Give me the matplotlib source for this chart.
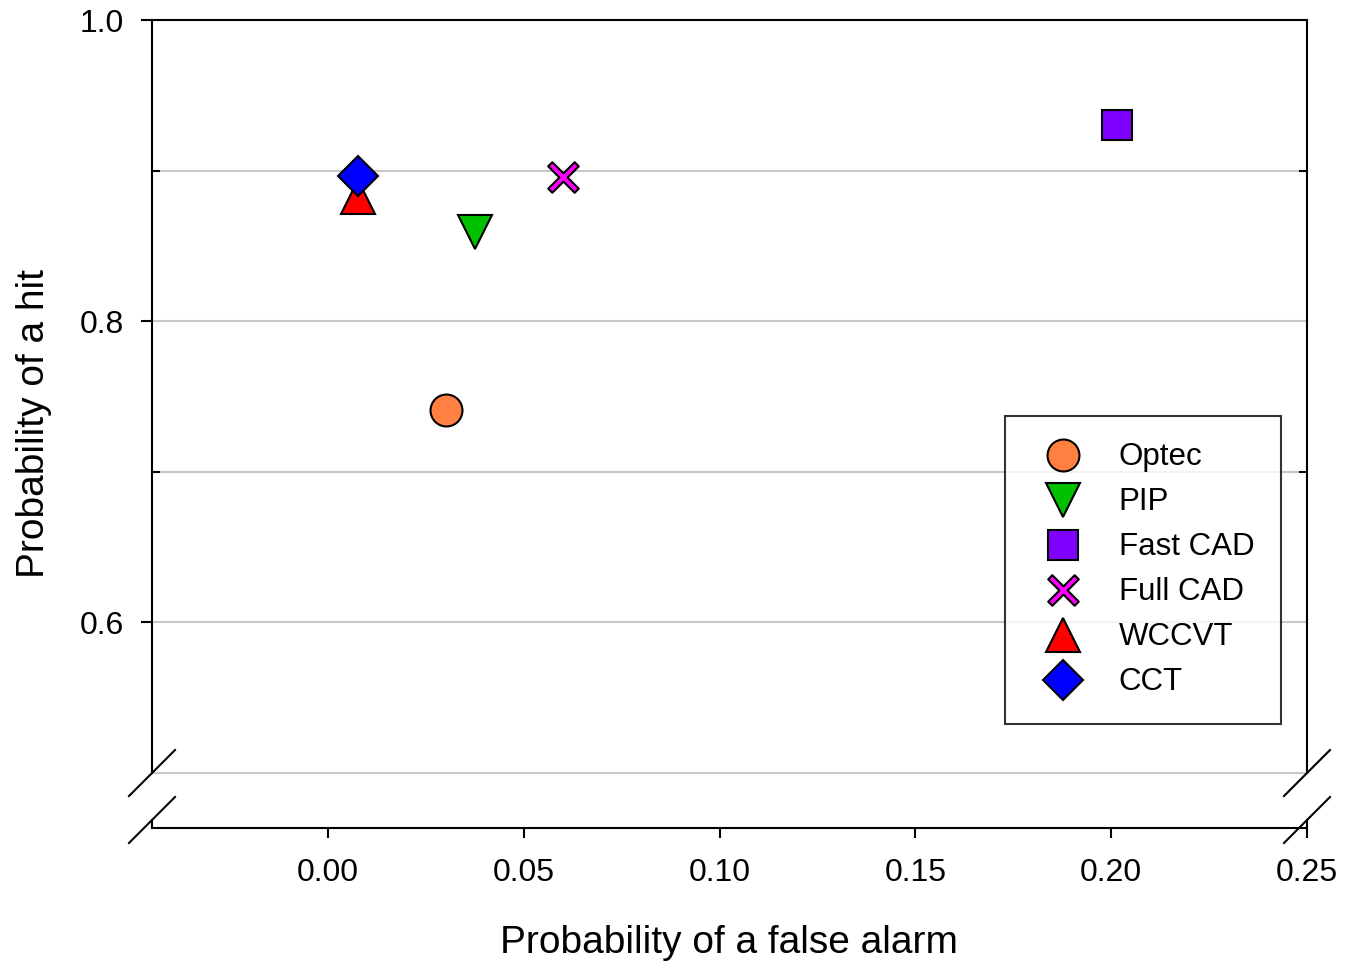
import numpy as np
import matplotlib.pyplot as plt
from matplotlib.path import Path

plt.rcParams['font.family'] = ['Liberation Sans', 'DejaVu Sans']

# data
methods = ['Optec', 'PIP', 'Fast CAD', 'Full CAD', 'WCCVT', 'CCT']
false_alarm = [0.030, 0.0375, 0.2015, 0.060, 0.0076, 0.0076]
hit = [0.741, 0.859, 0.930, 0.896, 0.8826, 0.8965]
colors = ['#FF8040', '#00C000', '#8000FF', '#FF00FF', '#FF0000', '#0000FF']

x_ticks = [0.00, 0.05, 0.10, 0.15, 0.20, 0.25]
y_ticks = [0.6, 0.8, 1.0]
y_minor = [0.7, 0.9]
grid_y = [0.5, 0.6, 0.7, 0.8, 0.9]

# thin "x" marker with an outline
w = 0.22
a = w / np.sqrt(2)
c = w * np.sqrt(2)
thin_x = Path([(0, c), (1 - a, 1 + a), (1 + a, 1 - a), (c, 0), (1 + a, -1 + a),
               (1 - a, -1 - a), (0, -c), (-1 + a, -1 - a), (-1 - a, -1 + a),
               (-c, 0), (-1 - a, 1 - a), (-1 + a, 1 + a), (0, c)], closed=True)

markers = ['o', 'v', 's', thin_x, '^', 'D']
sizes = [23, 24, 21, 22, 24, 20]

fig = plt.figure(figsize=(13.47, 9.63), dpi=100)
ax = fig.add_axes([152 / 1347, 1 - 828 / 963, 1155 / 1347, 808 / 963])

ymin = 0.4635
ax.set_xlim(-0.045, 0.25)
ax.set_ylim(ymin, 1.0)

for g in grid_y:
    ax.axhline(g, color='#C8C8C8', linewidth=1.5, zorder=0)

for m, x, y, mk, col, s in zip(methods, false_alarm, hit, markers, colors, sizes):
    ax.plot(x, y, linestyle='none', marker=mk, markersize=s, markerfacecolor=col,
            markeredgecolor='black', markeredgewidth=1.5, label=m, zorder=3)

# spines with a break between 0.5 and the x axis
for side in ['left', 'right']:
    ax.spines[side].set_bounds(0.5, 1.0)
    ax.spines[side].set_linewidth(1.5)
ax.spines['top'].set_linewidth(1.5)
ax.spines['bottom'].set_linewidth(1.5)

ax.set_xticks(x_ticks)
ax.set_xticklabels([f'{v:.2f}' for v in x_ticks])
ax.set_yticks(y_ticks)
ax.set_yticklabels([f'{v:.1f}' for v in y_ticks])
ax.set_yticks(y_minor, minor=True)
ax.tick_params(axis='x', labelsize=23, width=1.5, length=7.5, direction='out', pad=14)
ax.tick_params(axis='y', which='major', labelsize=23, width=1.5, length=8,
               direction='out', left=True, right=False, pad=12)
ax.tick_params(axis='y', which='minor', width=1.5, length=5.5,
               direction='in', left=True, right=True)

# break marks
dx = 23 / 1155
dy = 23 / 808
y_top = (0.5 - ymin) / (1.0 - ymin)
y_low = 8 / 808
for xa in [0.0, 1.0]:
    for ya in [y_top, y_low]:
        ax.plot([xa - dx, xa + dx], [ya - dy, ya + dy], color='black',
                linewidth=1.5, transform=ax.transAxes, clip_on=False, zorder=5)
    ax.plot([xa, xa], [0, y_low], color='black', linewidth=1.5,
            transform=ax.transAxes, clip_on=False, zorder=5)

ax.set_xlabel('Probability of a false alarm', fontsize=28, labelpad=27)
ax.set_ylabel('Probability of a hit', fontsize=28, labelpad=20)

leg = ax.legend(loc='lower right', bbox_to_anchor=(0.9775, 0.1287), borderaxespad=0,
                fontsize=22.5, frameon=True, fancybox=False, edgecolor='black',
                labelspacing=0.48, handletextpad=0.8, borderpad=0.85, handlelength=2.0,
                markerscale=1.0)
leg.get_frame().set_linewidth(1.5)

plt.savefig('out.png', dpi=100)
plt.close()
